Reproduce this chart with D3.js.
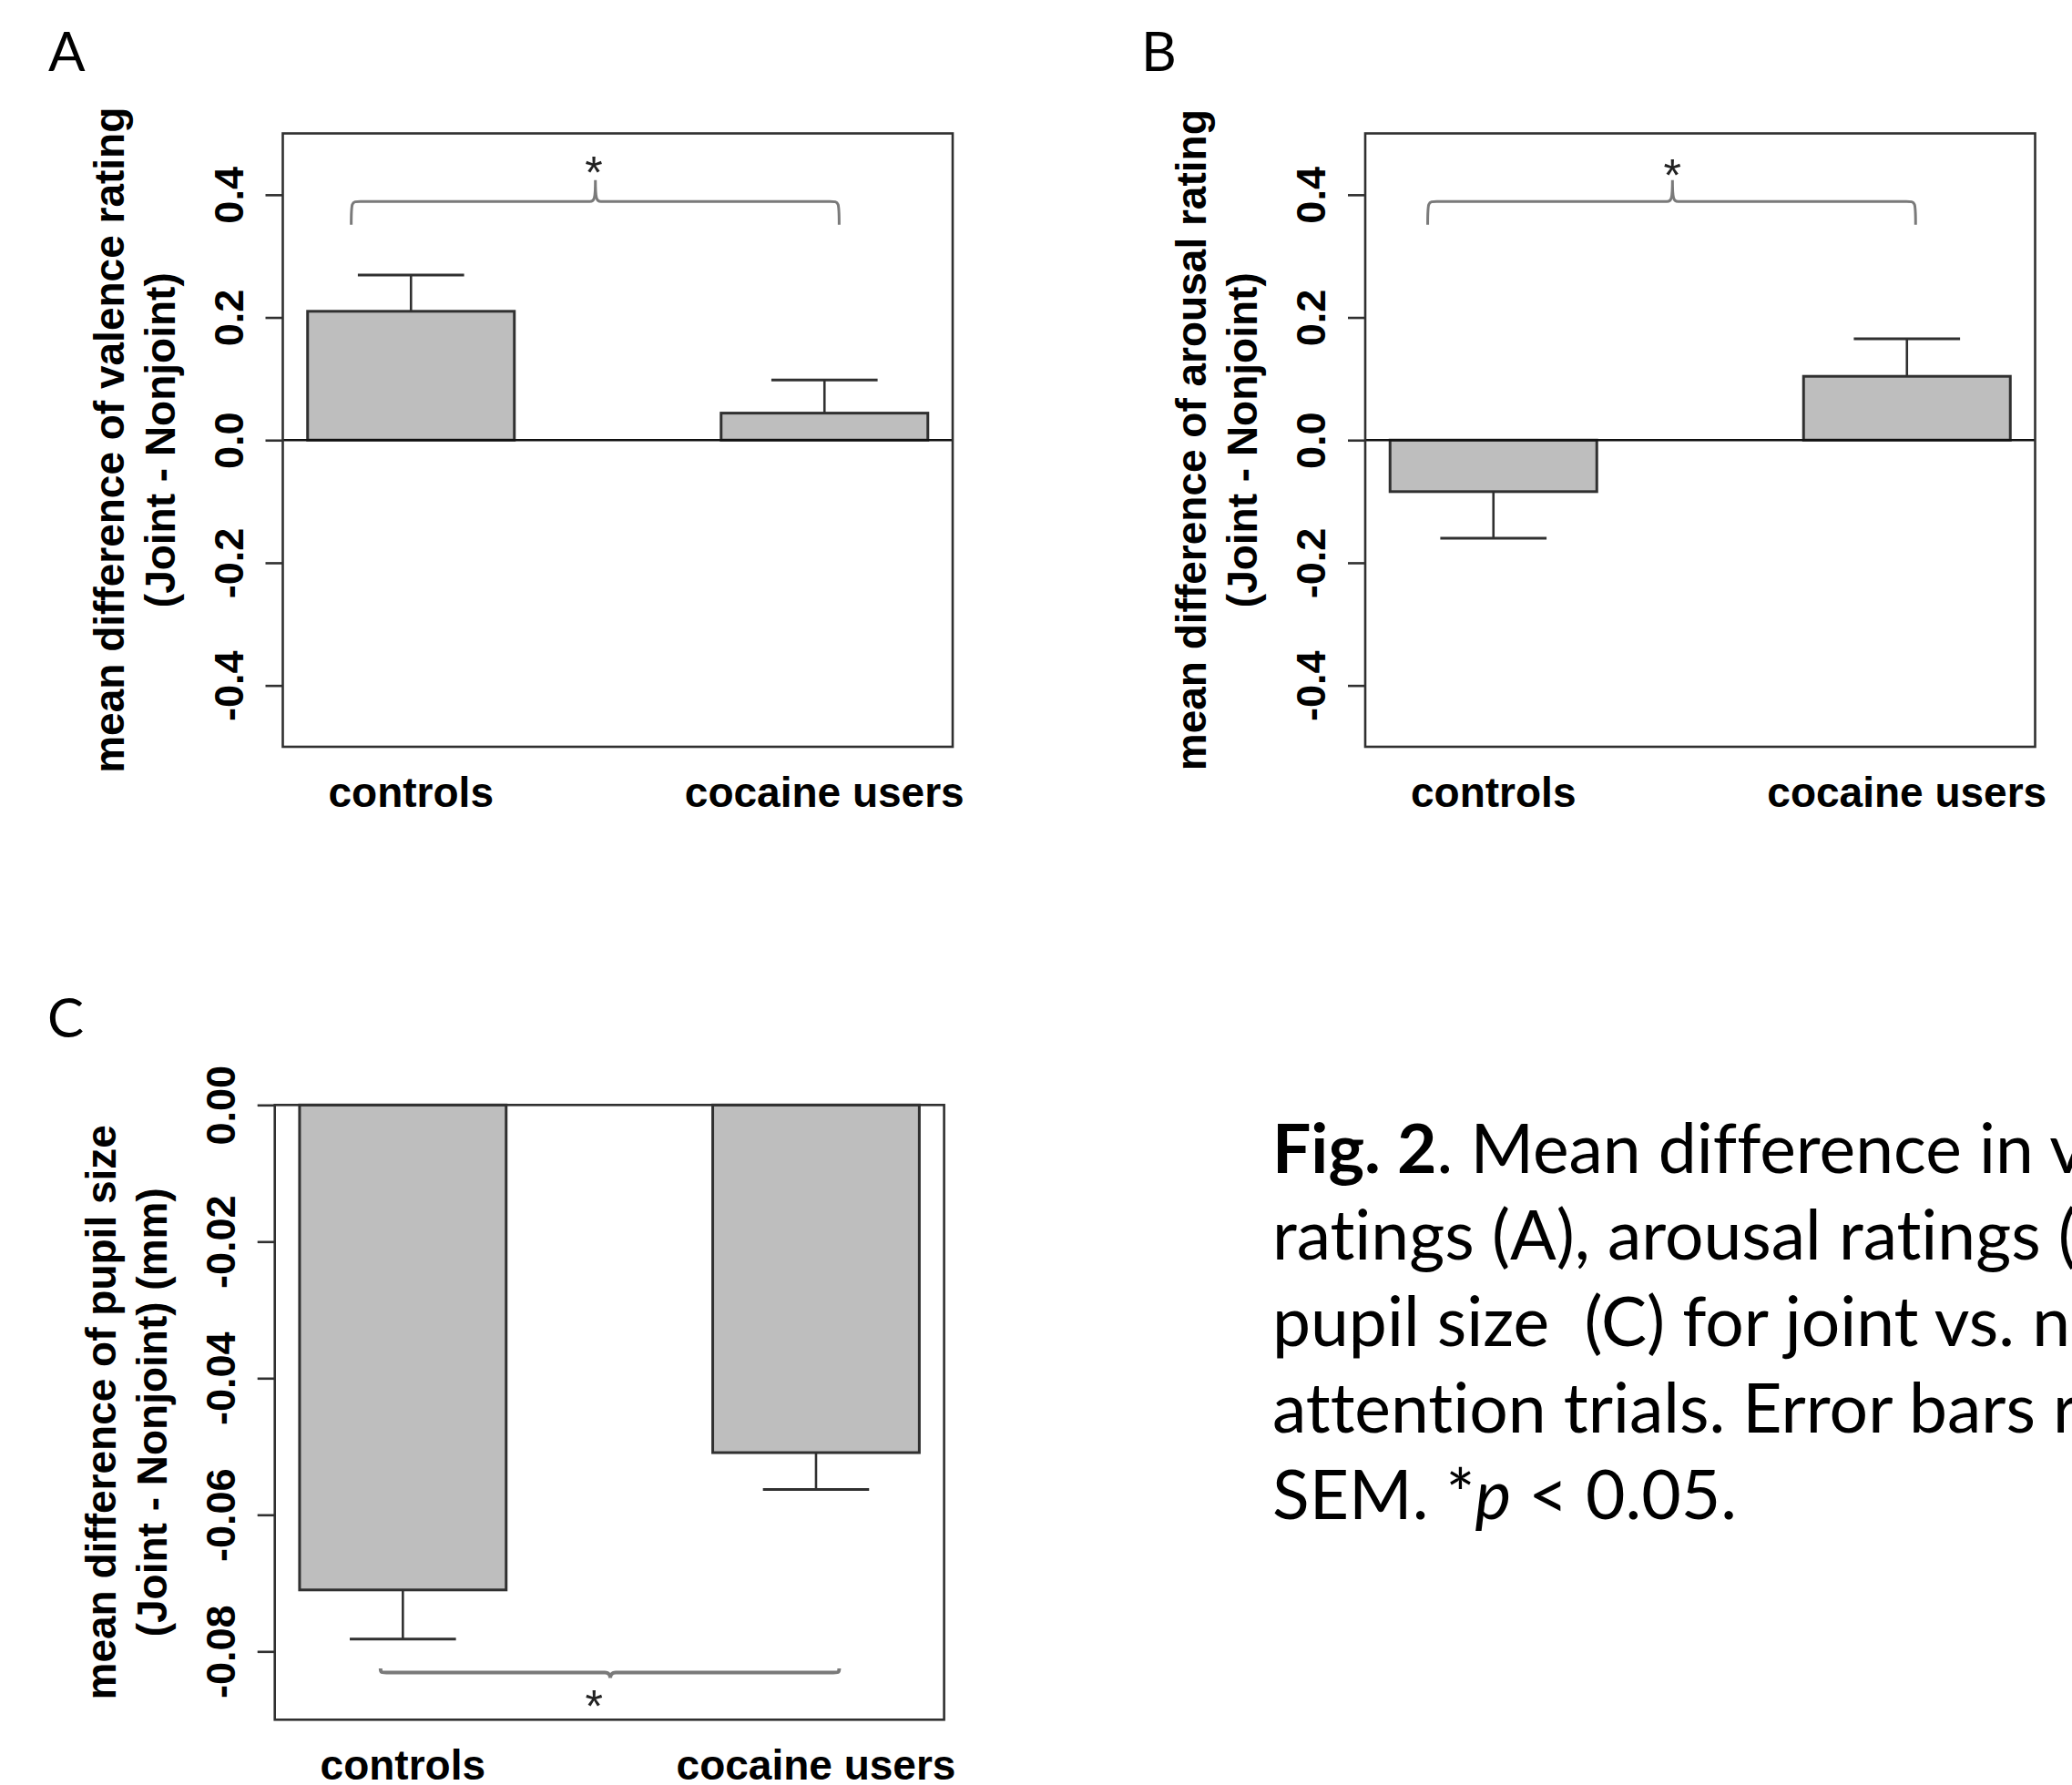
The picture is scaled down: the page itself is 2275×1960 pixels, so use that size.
<!DOCTYPE html>
<html>
<head>
<meta charset="utf-8">
<script src="https://cdn.jsdelivr.net/npm/d3@7/dist/d3.min.js"></script>
<style>
  html, body { margin: 0; padding: 0; background: #fff; overflow: hidden; }
  svg { display: block; overflow: hidden; }
  text { font-variant-ligatures: none; }
</style>
</head>
<body>
<script>
// ---------------- data ----------------
const categories = ["controls", "cocaine users"];

const valenceMean = [0.210, 0.044];
const valenceSEM  = [0.059, 0.054];

const arousalMean = [-0.084, 0.104];
const arousalSEM  = [0.076, 0.061];

const pupilMean = [-0.0710, -0.0509];
const pupilSEM  = [0.0072, 0.0054];

const ratingTicks = [-0.4, -0.2, 0.0, 0.2, 0.4];
const ratingTickLabels = ["-0.4", "-0.2", "0.0", "0.2", "0.4"];
const ratingDomain = [-0.5, 0.5];

const pupilTicks = [0.00, -0.02, -0.04, -0.06, -0.08];
const pupilTickLabels = ["0.00", "-0.02", "-0.04", "-0.06", "-0.08"];
const pupilDomain = [-0.09, 0.0];

const panelLetters = ["A", "B", "C"];
const yTitlesA = ["mean difference of valence rating", "(Joint - Nonjoint)"];
const yTitlesB = ["mean difference of arousal rating", "(Joint - Nonjoint)"];
const yTitlesC = ["mean difference of pupil size", "(Joint - Nonjoint) (mm)"];

const captionLines = [
  [{t: "Fig. 2", w: "bold"}, {t: ". Mean difference in valence"}],
  [{t: "ratings (A), arousal ratings (B), and"}],
  [{t: "pupil size  (C) for joint vs. nonjoint"}],
  [{t: "attention trials. Error bars represent"}],
  [{t: "SEM. *"}, {t: "p", s: "italic"}, {t: " < 0.05."}]
];

// ---------------- drawing ----------------
const W = 2275, H = 1960;
const svg = d3.select("body").append("svg").attr("width", W).attr("height", H);
svg.append("rect").attr("width", W).attr("height", H).attr("fill", "#fff");

const RFONT = "'Liberation Sans', Arial, sans-serif";
const INK = "#303030";

function panel(opts) {
  const {box, means, sems, ticks, tickLabels, domain, titles, brace} = opts;
  const g = svg.append("g");
  const x = d3.scaleBand().domain(categories).range([box.x0, box.x1])
              .paddingInner(0.5).paddingOuter(0.06);
  const u = d3.scaleLinear().domain([0.88, 4.12]).range([box.x0, box.x1]);
  const y = d3.scaleLinear().domain(domain).range([box.y1, box.y0]);

  // bars
  g.selectAll("rect.bar").data(categories).join("rect")
    .attr("class", "bar")
    .attr("x", d => x(d))
    .attr("width", x.bandwidth())
    .attr("y", (d, i) => y(Math.max(0, means[i])))
    .attr("height", (d, i) => Math.abs(y(means[i]) - y(0)))
    .attr("fill", "#bebebe").attr("stroke", INK).attr("stroke-width", 3);

  // zero line
  if (domain[1] > 0) {
    g.append("line").attr("x1", box.x0).attr("x2", box.x1)
      .attr("y1", y(0)).attr("y2", y(0)).attr("stroke", "#111").attr("stroke-width", 2.5);
  }

  // error bars (away from zero)
  const cap = x.bandwidth() * 0.257;
  categories.forEach((c, i) => {
    const cx = x(c) + x.bandwidth() / 2;
    const end = means[i] + Math.sign(means[i]) * sems[i];
    g.append("line").attr("x1", cx).attr("x2", cx)
      .attr("y1", y(means[i])).attr("y2", y(end))
      .attr("stroke", INK).attr("stroke-width", 2.6);
    g.append("line").attr("x1", cx - cap).attr("x2", cx + cap)
      .attr("y1", y(end)).attr("y2", y(end))
      .attr("stroke", INK).attr("stroke-width", 3);
  });

  // box
  g.append("rect").attr("x", box.x0).attr("y", box.y0)
    .attr("width", box.x1 - box.x0).attr("height", box.y1 - box.y0)
    .attr("fill", "none").attr("stroke", INK).attr("stroke-width", 2.6);

  // axis
  const ax = g.append("g").attr("transform", `translate(${box.x0},0)`)
    .call(d3.axisLeft(y).tickValues(ticks).tickFormat((d, i) => tickLabels[i]).tickSize(19));
  ax.select(".domain").remove();
  ax.selectAll(".tick line").attr("stroke", INK).attr("stroke-width", 2.6);
  ax.selectAll(".tick text")
    .attr("x", null).attr("dy", null).attr("y", null)
    .attr("text-anchor", "middle")
    .attr("transform", "translate(-44,0) rotate(-90)")
    .attr("fill", "#000")
    .style("font-family", RFONT).style("font-weight", "bold").style("font-size", "45px");

  // y titles
  const cy = (box.y0 + box.y1) / 2;
  [[titles[0], -175], [titles[1], -119]].forEach(([t, dx]) => {
    g.append("text").text(t)
      .attr("transform", `translate(${box.x0 + dx},${cy}) rotate(-90)`)
      .attr("text-anchor", "middle")
      .style("font-family", RFONT).style("font-weight", "bold").style("font-size", "46px");
  });

  // x labels
  g.selectAll("text.xl").data(categories).join("text")
    .attr("class", "xl")
    .attr("x", d => x(d) + x.bandwidth() / 2)
    .attr("y", box.y1 + 66)
    .attr("text-anchor", "middle")
    .text(d => d)
    .style("font-family", RFONT).style("font-weight", "bold").style("font-size", "46px");

  // significance brace
  const b = brace;
  const x1 = u(b.x1), x2 = u(b.x2), xc = u(b.xc);
  const yl = y(b.yLine), ye = y(b.yEnd), yp = y(b.yPeak);
  const r = 10, pw = 6;
  const sgn = Math.sign(yp - yl);
  const p = `M${x1},${ye} C${x1},${yl} ${x1},${yl} ${x1 + r},${yl}` +
            ` L${xc - pw},${yl} C${xc - 1},${yl} ${xc},${yl + sgn * 4} ${xc},${yp}` +
            ` C${xc},${yl + sgn * 4} ${xc + 1},${yl} ${xc + pw},${yl}` +
            ` L${x2 - r},${yl} C${x2},${yl} ${x2},${yl} ${x2},${ye}`;
  g.append("path").attr("d", p).attr("fill", "none")
    .attr("stroke", "#7a7a7a").attr("stroke-width", b.sw || 3);
  g.append("text").text("*")
    .attr("x", u(b.xs)).attr("y", y(b.ys) + 26)
    .attr("text-anchor", "middle")
    .style("font-family", RFONT).style("font-size", "50px").attr("fill", "#222");

  // panel letter
  svg.append("text").text(opts.letter)
    .attr("x", opts.lx).attr("y", opts.ly)
    .style("font-family", "Lato, 'Open Sans', sans-serif").style("font-size", "60px")
    .style("font-weight", "400");
}

panel({
  letter: panelLetters[0], lx: 53, ly: 78,
  box: {x0: 310.5, x1: 1046, y0: 146.5, y1: 820},
  means: valenceMean, sems: valenceSEM,
  ticks: ratingTicks, tickLabels: ratingTickLabels, domain: ratingDomain,
  titles: yTitlesA,
  brace: {x1: 1.211, x2: 3.571, xc: 2.392, yLine: 0.389, yEnd: 0.351, yPeak: 0.424, xs: 2.384, ys: 0.449}
});

panel({
  letter: panelLetters[1], lx: 1253, ly: 78,
  box: {x0: 1499, x1: 2234.5, y0: 146.5, y1: 820},
  means: arousalMean, sems: arousalSEM,
  ticks: ratingTicks, tickLabels: ratingTickLabels, domain: ratingDomain,
  titles: yTitlesB,
  brace: {x1: 1.182, x2: 3.542, xc: 2.366, yLine: 0.389, yEnd: 0.351, yPeak: 0.424, xs: 2.366, ys: 0.445}
});

panel({
  letter: panelLetters[2], lx: 52, ly: 1139,
  box: {x0: 301.7, x1: 1036.6, y0: 1213.3, y1: 1888.3},
  means: pupilMean, sems: pupilSEM,
  ticks: pupilTicks, tickLabels: pupilTickLabels, domain: pupilDomain,
  titles: yTitlesC,
  brace: {x1: 1.392, x2: 3.612, xc: 2.504, yLine: -0.0831, yEnd: -0.0825, yPeak: -0.0839, xs: 2.425, ys: -0.0869, sw: 4}
});

// caption
const cap = svg.append("text")
  .attr("x", 1397).attr("y", 1288)
  .attr("xml:space", "preserve")
  .style("white-space", "pre")
  .style("font-family", "Lato, 'Open Sans', sans-serif").style("font-size", "75px");
captionLines.forEach((line, li) => {
  line.forEach((seg, si) => {
    const ts = cap.append("tspan").text(seg.t);
    if (si === 0) ts.attr("x", 1397).attr("y", 1288 + li * 95);
    if (seg.w) ts.style("font-weight", seg.w);
    if (seg.s) ts.style("font-style", seg.s);
  });
});
</script>
</body>
</html>
